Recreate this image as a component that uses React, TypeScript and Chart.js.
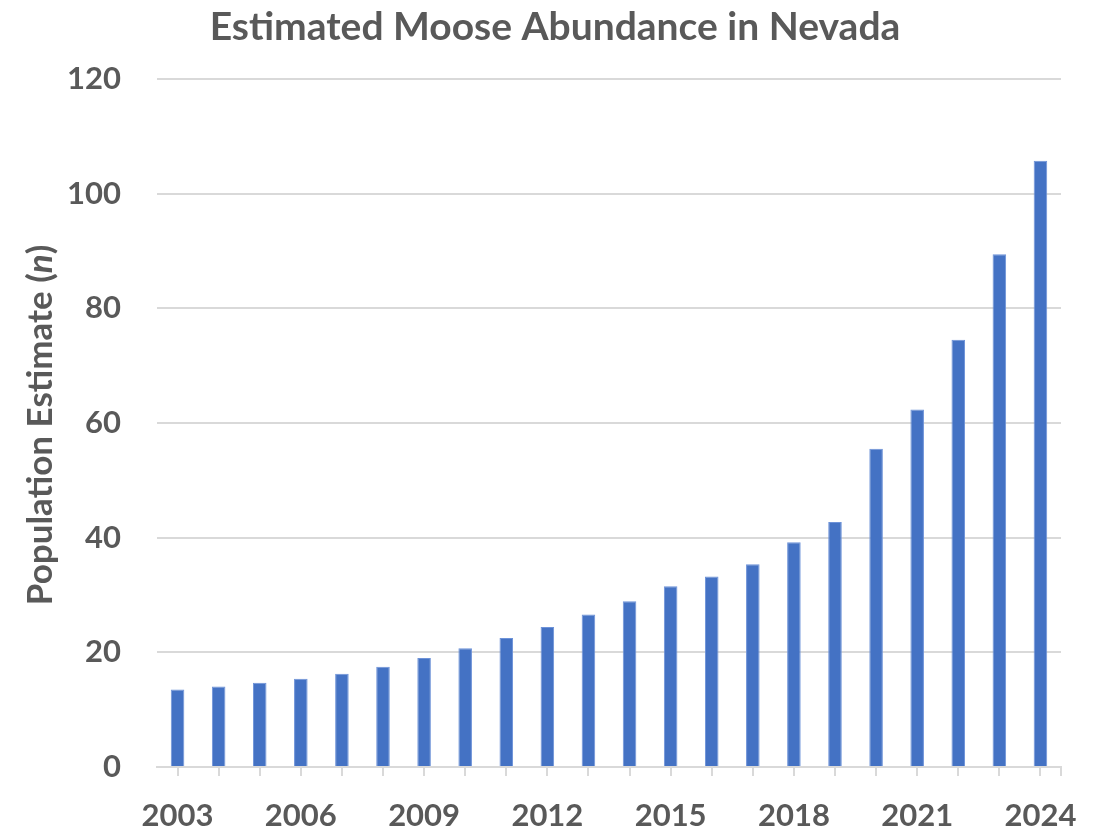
import React, { useEffect, useRef } from "react";
import { Chart, registerables } from "chart.js";

Chart.register(...registerables);

const years: string[] = [
  "2003", "2004", "2005", "2006", "2007", "2008", "2009", "2010", "2011", "2012", "2013",
  "2014", "2015", "2016", "2017", "2018", "2019", "2020", "2021", "2022", "2023", "2024",
];
const populationEstimates: number[] = [
  13.5, 14.05, 14.7, 15.4, 16.25, 17.5, 19.0, 20.7, 22.5, 24.4, 26.6,
  28.9, 31.5, 33.2, 35.35, 39.2, 42.7, 55.5, 62.35, 74.5, 89.4, 105.7,
];
const yTicks: number[] = [0, 20, 40, 60, 80, 100, 120];

const TEXT = "#595959";
const GRID = "#d9d9d9";
const FONT = "Lato, 'Open Sans', sans-serif";

const yTitlePlugin = {
  id: "yTitleMixed",
  afterDraw(chart: any) {
    const { ctx, chartArea } = chart;
    const parts = [
      { t: "Population Estimate (", italic: false },
      { t: "n", italic: true },
      { t: ")", italic: false },
    ];
    const size = 35;
    ctx.save();
    let total = 0;
    const widths = parts.map((p) => {
      ctx.font = `${p.italic ? "italic " : ""}bold ${size}px ${FONT}`;
      const w = ctx.measureText(p.t).width;
      total += w;
      return w;
    });
    const cx = 41;
    const cy = (chartArea.top + chartArea.bottom) / 2 + 2;
    ctx.translate(cx, cy);
    ctx.rotate(-Math.PI / 2);
    ctx.fillStyle = TEXT;
    ctx.textBaseline = "middle";
    ctx.textAlign = "left";
    let x = -total / 2;
    parts.forEach((p, i) => {
      ctx.font = `${p.italic ? "italic " : ""}bold ${size}px ${FONT}`;
      ctx.fillText(p.t, x, 0);
      x += widths[i];
    });
    ctx.restore();
    // closing tick at right end of x axis
    ctx.save();
    ctx.strokeStyle = GRID;
    ctx.lineWidth = 2;
    ctx.beginPath();
    ctx.moveTo(chartArea.right, chartArea.bottom);
    ctx.lineTo(chartArea.right, chartArea.bottom + 9);
    ctx.stroke();
    ctx.restore();
  },
};

export default function App() {
  const ref = useRef<HTMLCanvasElement | null>(null);

  useEffect(() => {
    document.body.style.margin = "0";
    if (!ref.current) return;
    const chart = new Chart(ref.current, {
      type: "bar",
      data: {
        labels: years,
        datasets: [
          {
            label: "Population Estimate",
            data: populationEstimates,
            backgroundColor: "#4472C4",
            borderColor: "#6d92d8",
            borderWidth: 1,
            categoryPercentage: 1,
            barPercentage: 0.33,
          },
        ],
      },
      options: {
        animation: false,
        responsive: false,
        maintainAspectRatio: false,
        layout: { padding: { left: 49, right: 40, top: 0, bottom: 0 } },
        plugins: {
          legend: { display: false },
          tooltip: { enabled: false },
          title: {
            display: true,
            text: "Estimated Moose Abundance in Nevada",
            color: TEXT,
            font: { family: FONT, size: 39, weight: "bold" },
            padding: { top: 4, bottom: 28 },
          },
        },
        scales: {
          x: {
            offset: true,
            grid: {
              display: true,
              offset: false,
              drawOnChartArea: false,
              drawTicks: true,
              tickLength: 9,
              color: GRID,
              lineWidth: 2,
            },
            border: { display: true, color: GRID, width: 2 },
            ticks: {
              autoSkip: false,
              maxRotation: 0,
              color: TEXT,
              padding: 21,
              font: { family: FONT, size: 31, weight: "bold" },
              callback: (_v: any, i: number) => (i % 3 === 0 ? years[i] : ""),
            },
            afterFit: (s: any) => {
              s.height = 64;
            },
          },
          y: {
            min: 0,
            max: 120,
            afterBuildTicks: (s: any) => {
              s.ticks = yTicks.map((v) => ({ value: v }));
            },
            grid: { color: GRID, lineWidth: 2, drawTicks: false },
            border: { display: false },
            ticks: {
              color: TEXT,
              padding: 36,
              font: { family: FONT, size: 31, weight: "bold" },
            },
            afterFit: (s: any) => {
              s.width = 108;
            },
          },
        },
      },
      plugins: [yTitlePlugin],
    });
    return () => chart.destroy();
  }, []);

  return (
    <div style={{ width: 1101, height: 831 }}>
      <canvas ref={ref} width={1101} height={831} style={{ display: "block" }} />
    </div>
  );
}
